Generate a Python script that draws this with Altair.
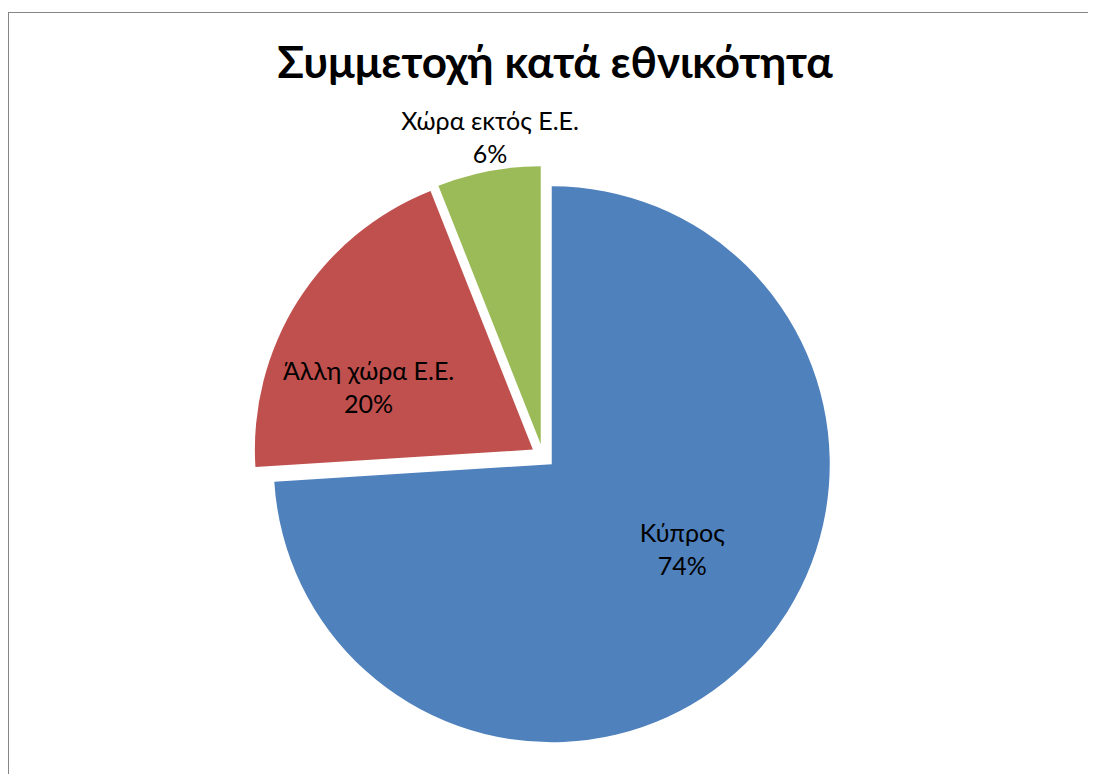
import math
import altair as alt
import pandas as pd

# ---- data ----
categories = ["Κύπρος", "Άλλη χώρα Ε.Ε.", "Χώρα εκτός Ε.Ε."]
values = [74, 20, 6]
percent_labels = ["74%", "20%", "6%"]
colors = ["#4F81BD", "#C0504D", "#9BBB59"]
title_text = "Συμμετοχή κατά εθνικότητα"

# ---- layout / style ----
W, H = 1080, 766
CX, CY = 535, 448          # pie centre inside the view
R = 278                    # pie radius
EXPLODE = 12               # explosion distance of every slice
FONT = "Lato"
# label radius and fine offsets per slice (style)
label_style = [
    dict(radius=165, dx=19, dy=-27),
    dict(radius=190, dx=-14, dy=26),
    dict(radius=320, dx=7, dy=-12),
]

df = pd.DataFrame({
    "category": categories,
    "value": values,
    "order": list(range(len(categories))),
    "pct": percent_labels,
})
total = float(sum(values))
theta_scale = alt.Scale(domain=[0, total], range=[0, 2 * math.pi])

base = (
    alt.Chart(df)
    .transform_window(cum="sum(value)", sort=[alt.SortField("order")], frame=[None, 0])
    .transform_calculate(
        start="datum.cum - datum.value",
        mid="datum.cum - datum.value / 2",
        label="datum.category + '\\n' + datum.pct",
    )
)

layers = []
acc = 0.0
for i, cat in enumerate(categories):
    mid_angle = (acc + values[i] / 2) / total * 2 * math.pi
    acc += values[i]
    ox = EXPLODE * math.sin(mid_angle)
    oy = -EXPLODE * math.cos(mid_angle)
    sub = base.transform_filter(alt.datum.category == cat)
    arc = sub.mark_arc(radius=R, color=colors[i]).encode(
        theta=alt.Theta("start:Q", scale=theta_scale, stack=None),
        theta2="cum:Q",
        x=alt.value(CX + ox),
        y=alt.value(CY + oy),
    )
    st = label_style[i]
    txt = sub.mark_text(
        radius=st["radius"], dx=st["dx"], dy=st["dy"],
        font=FONT, fontSize=25, color="#000000",
        align="center", baseline="alphabetic",
        lineBreak="\n", lineHeight=33,
    ).encode(
        theta=alt.Theta("mid:Q", scale=theta_scale, stack=None),
        text="label:N",
        x=alt.value(CX),
        y=alt.value(CY),
    )
    layers += [arc, txt]

frame_df = pd.DataFrame({"k": [0]})
left_rule = alt.Chart(frame_df).mark_rule(color="#868686", strokeWidth=1).encode(
    x=alt.value(0.5), y=alt.value(4.5), y2=alt.value(H)
)
top_rule = alt.Chart(frame_df).mark_rule(color="#868686", strokeWidth=1).encode(
    x=alt.value(0), x2=alt.value(W), y=alt.value(4.5)
)

chart = alt.layer(left_rule, top_rule, *layers).properties(
    width=W,
    height=H,
    autosize=alt.AutoSizeParams(type="none"),
    padding=0,
    background="white",
    title=alt.TitleParams(
        text=title_text, font=FONT, fontSize=44, fontWeight="bold", color="#000000",
        anchor="middle", baseline="alphabetic", offset=0, dy=114, dx=7,
    ),
).configure_view(stroke=None)

chart.save("out.html", embed_options={"renderer": "svg", "actions": False})
